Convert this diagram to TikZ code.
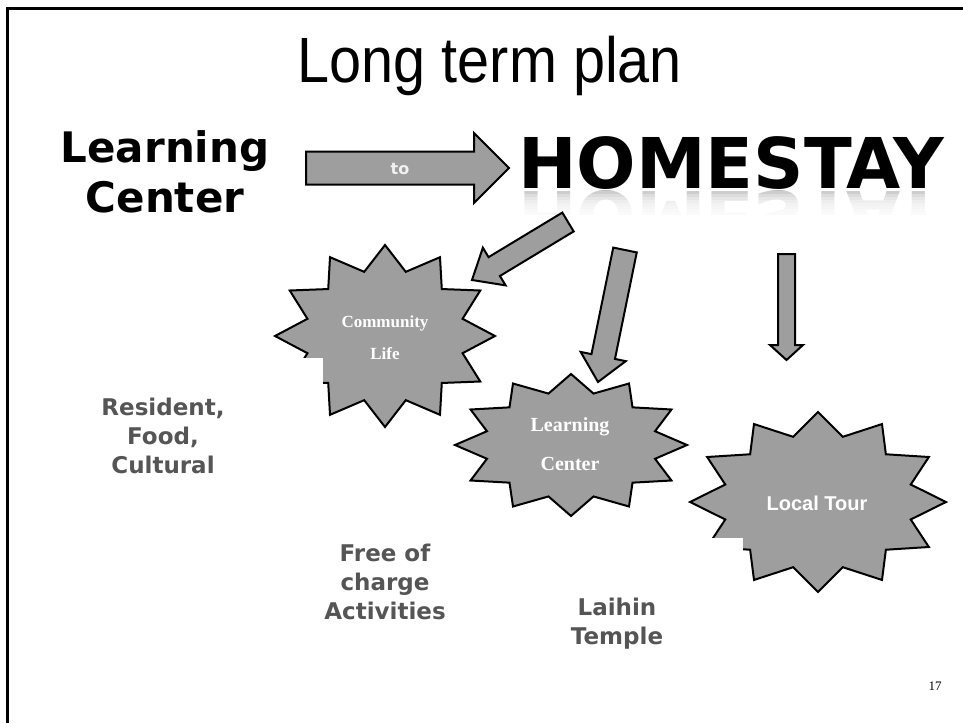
\documentclass[tikz,border=0pt]{standalone}
\usepackage{fontspec}
\setmainfont{Liberation Serif}
\newfontfamily\arialfont{Liberation Sans}
\newfontfamily\verdanafont{DejaVu Sans}
\usetikzlibrary{calc}
\definecolor{shapegray}{RGB}{158,158,158}
\definecolor{textgray}{RGB}{85,85,85}
\newcommand\burstshape[5]{%
  \draw[burst] ({#1+#3},#2)
    \foreach \k in {1,...,23}{ -- ({#1+(1-mod(\k,2)*(1-#5))*#3*cos(\k*15)},{#2+(1-mod(\k,2)*(1-#5))*#4*sin(\k*15)}) } -- cycle;}
\newcommand\blockarrowpath[5]{%
  \coordinate (tmpb) at ($(#2)!#5pt!(#1)$);
  \draw[blockarrow] ($(#1)!#3pt!90:(#2)$) -- ($(tmpb)!#3pt!90:(#2)$) -- ($(tmpb)!#4pt!90:(#2)$) -- (#2)
    -- ($(tmpb)!#4pt!-90:(#2)$) -- ($(tmpb)!#3pt!-90:(#2)$) -- ($(#1)!#3pt!-90:(#2)$) -- cycle;}
\tikzset{
  burst/.style={draw=black, line width=2pt, fill=shapegray, line join=miter},
  blockarrow/.style={draw=black, line width=2pt, fill=shapegray, line join=miter},
  graytext/.style={font=\verdanafont\bfseries\fontsize{23}{29}\selectfont, text=textgray, align=center, inner sep=0pt},
  bigtext/.style={font=\verdanafont\bfseries\fontsize{42}{50}\selectfont, text=black, align=center, inner sep=0pt},
  homefont/.style={font=\verdanafont\bfseries\fontsize{70}{72}\selectfont, anchor=base west, inner sep=0pt},
}
\begin{document}
\begin{tikzpicture}[x=1pt,y=-1pt]
\useasboundingbox (0,0) rectangle (963,723);
\fill[white] (0,0) rectangle (963,723);
% frame
\draw[line width=3pt] (7,723) -- (7,8) -- (963,8);
% title
\node[font=\arialfont\fontsize{64}{70}\selectfont, xscale=0.9, anchor=base, inner sep=0pt] (title) at (490,82) {Long term plan};
% left heading
\node[bigtext] (learnhead) at (165,172) {Learning\\Center};
% HOMESTAY and reflection
\node[homefont, text=black!28, yscale=-1] (homerefl) at (518,191) {HOMESTAY};
\foreach \i in {0,...,7} \fill[white, opacity=0.3] (512,{191+3*\i}) rectangle (963,215);
\fill[white] (512,215) rectangle (963,250);
\node[homefont] (home) at (518,188) {HOMESTAY};
% arrow coordinates
\coordinate (a1t) at (306,168); \coordinate (a1h) at (509,168);
\coordinate (a2t) at (568,222); \coordinate (a2h) at (472,280);
\coordinate (a3t) at (625,250); \coordinate (a3h) at (598,382);
\coordinate (a4t) at (786.5,254); \coordinate (a4h) at (786.5,360);
\blockarrowpath{a1t}{a1h}{16.5}{35}{35}
\node[font=\verdanafont\bfseries\fontsize{16}{18}\selectfont, text=white!95!black] (tolabel) at (400,169) {to};
\blockarrowpath{a2t}{a2h}{11}{22}{26}
\blockarrowpath{a3t}{a3h}{12}{23}{26}
\blockarrowpath{a4t}{a4h}{8.5}{16.5}{15}
% stars
\burstshape{385}{336}{110}{91}{0.73}
\fill[white] (270,358) rectangle (323,402);
\burstshape{571}{445}{116}{71}{0.75}
\burstshape{818}{502}{128}{90}{0.75}
\fill[white] (695,538) rectangle (743,568);
% star labels
\node[font=\bfseries\fontsize{17}{32}\selectfont, text=white, align=center, inner sep=0pt] (community) at (385,338) {Community\\Life};
\node[font=\bfseries\fontsize{20}{39}\selectfont, text=white, align=center, inner sep=0pt] (learning) at (570,444) {Learning\\Center};
\node[font=\arialfont\bfseries\fontsize{20}{24}\selectfont, text=white, inner sep=0pt] (localtour) at (817,503) {Local Tour};
% gray texts
\node[graytext] (resident) at (163,436) {Resident,\\Food,\\Cultural};
\node[graytext] (free) at (385,582) {Free of\\charge\\Activities};
\node[graytext] (laihin) at (617,624) {Laihin\\Temple};
% page number
\node[font=\fontsize{13}{15}\selectfont, inner sep=0pt] (pagenum) at (935,686) {17};
\end{tikzpicture}
\end{document}
